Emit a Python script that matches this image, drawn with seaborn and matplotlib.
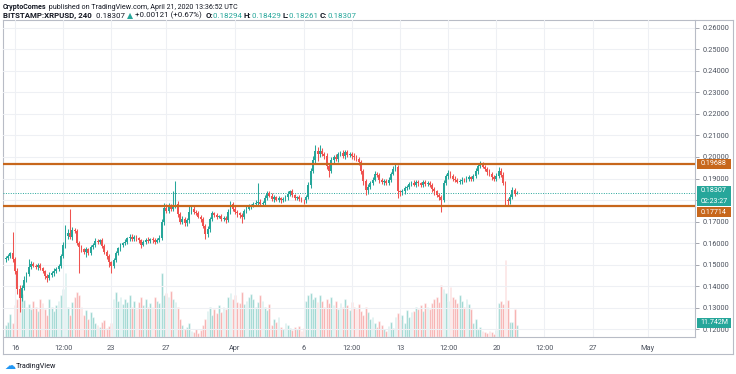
import numpy as np
import pandas as pd
import matplotlib
matplotlib.use("Agg")
import matplotlib.pyplot as plt
from matplotlib.patches import Rectangle
import seaborn as sns

sns.set_theme(style="white")
plt.rcParams["font.family"] = ["Roboto", "DejaVu Sans"]

# ==============================
# DATA  (XRPUSD 4h candles, Mar 15 08:00 -> Apr 21 12:00, prices in 1e-4 USD)
# ==============================
first_open = 1525
close = [
    1530, 1538, 1552, 1524, 1470, 1385, 1345, 1392, 1430, 1455, 1490, 1502,
    1495, 1488, 1496, 1482, 1470, 1448, 1438, 1452, 1460, 1472, 1480, 1492,
    1540, 1590, 1632, 1645, 1628, 1660, 1655, 1600, 1582, 1572, 1560, 1570,
    1555, 1580, 1592, 1610, 1604, 1612, 1588, 1560, 1540, 1510, 1495, 1520,
    1552, 1575, 1590, 1598, 1605, 1622, 1630, 1618, 1628, 1622, 1612, 1592,
    1605, 1615, 1610, 1618, 1612, 1606, 1615, 1625, 1700, 1765, 1750, 1772,
    1760, 1770, 1780, 1735, 1700, 1712, 1692, 1705, 1742, 1760, 1745, 1738,
    1722, 1712, 1680, 1640, 1665, 1712, 1738, 1730, 1722, 1725, 1712, 1715,
    1705, 1745, 1782, 1760, 1745, 1738, 1730, 1722, 1748, 1760, 1770, 1775,
    1782, 1788, 1790, 1782, 1786, 1810, 1832, 1820, 1805, 1812, 1802, 1808,
    1798, 1805, 1812, 1830, 1840, 1822, 1810, 1812, 1805, 1800, 1798, 1812,
    1870, 1935, 1985, 2030, 2012, 2028, 2015, 2005, 1960, 1935, 1985, 2000,
    1990, 2012, 2018, 2005, 2022, 2010, 2015, 2005, 1998, 1990, 1975, 1935,
    1890, 1845, 1862, 1880, 1895, 1920, 1915, 1892, 1882, 1890, 1880, 1895,
    1922, 1945, 1952, 1840, 1835, 1842, 1855, 1860, 1875, 1880, 1872, 1885,
    1878, 1870, 1882, 1875, 1880, 1870, 1850, 1840, 1825, 1812, 1800, 1880,
    1910, 1925, 1912, 1900, 1895, 1885, 1888, 1895, 1892, 1900, 1905, 1898,
    1912, 1935, 1958, 1965, 1955, 1945, 1930, 1920, 1905, 1900, 1910, 1935,
    1918, 1880, 1800, 1795, 1815, 1845, 1829.4, 1830.7,
]
upper_wick = [
    10, 12, 8, 100, 10, 15, 20, 12, 15, 10, 35, 12,
    10, 8, 12, 10, 8, 6, 10, 12, 8, 10, 8, 12,
    10, 15, 50, 20, 115, 15, 10, 12, 8, 10, 6, 10,
    8, 12, 10, 15, 10, 8, 10, 6, 8, 10, 8, 10,
    12, 8, 10, 6, 12, 8, 10, 12, 8, 10, 6, 8,
    10, 8, 12, 6, 8, 10, 8, 10, 12, 20, 15, 12,
    10, 70, 110, 15, 10, 12, 8, 10, 30, 12, 10, 8,
    10, 6, 8, 10, 12, 10, 12, 8, 10, 6, 8, 10,
    12, 15, 12, 8, 10, 8, 6, 10, 8, 10, 12, 8,
    10, 12, 90, 15, 10, 12, 10, 8, 12, 10, 8, 10,
    8, 10, 12, 10, 8, 10, 6, 8, 10, 8, 6, 10,
    15, 12, 20, 26, 15, 28, 12, 10, 12, 10, 15, 10,
    12, 10, 8, 15, 12, 10, 8, 10, 12, 10, 8, 10,
    10, 8, 12, 10, 10, 15, 8, 10, 12, 8, 10, 12,
    10, 12, 15, 10, 8, 10, 8, 12, 10, 8, 12, 8,
    10, 8, 12, 10, 8, 10, 8, 10, 6, 8, 10, 15,
    12, 15, 10, 8, 10, 8, 12, 10, 8, 10, 12, 8,
    10, 12, 10, 15, 10, 8, 10, 12, 8, 10, 15, 20,
    12, 10, 8, 10, 12, 15, 10, 12.2,
]
lower_wick = [
    12, 10, 8, 12, 15, 20, 65, 15, 10, 12, 8, 10,
    8, 10, 12, 8, 10, 15, 20, 10, 8, 12, 10, 8,
    8, 10, 12, 15, 10, 12, 8, 10, 120, 15, 10, 25,
    12, 10, 8, 12, 10, 8, 10, 12, 15, 20, 35, 12,
    10, 8, 12, 10, 8, 10, 12, 10, 8, 12, 10, 15,
    8, 10, 12, 8, 10, 12, 8, 10, 10, 15, 12, 10,
    12, 10, 8, 15, 12, 10, 15, 12, 10, 8, 12, 10,
    8, 12, 10, 20, 10, 12, 8, 10, 12, 8, 10, 8,
    10, 8, 12, 10, 8, 15, 12, 30, 12, 10, 8, 10,
    8, 10, 12, 10, 8, 10, 12, 8, 10, 12, 8, 10,
    12, 8, 10, 12, 10, 8, 10, 12, 8, 10, 15, 10,
    8, 12, 10, 15, 30, 12, 10, 12, 15, 28, 10, 12,
    10, 12, 8, 10, 12, 10, 8, 12, 10, 8, 12, 15,
    20, 22, 15, 10, 12, 8, 10, 12, 8, 10, 12, 8,
    10, 8, 12, 30, 15, 10, 12, 8, 10, 12, 8, 10,
    12, 8, 10, 12, 8, 10, 12, 15, 10, 12, 56, 10,
    12, 10, 8, 12, 10, 8, 10, 12, 8, 10, 12, 10,
    8, 10, 12, 10, 8, 10, 12, 8, 10, 12, 10, 8,
    10, 12, 25, 20, 12, 10, 12, 3.3,
]
volume_m = [
    12, 15, 23, 14, 32, 38, 40, 43, 37, 30, 33, 28,
    36, 30, 26, 38, 34, 28, 22, 38, 30, 26, 32, 36,
    42, 48, 64, 30, 22, 35, 40, 45, 42, 30, 22, 27,
    18, 25, 20, 14, 12, 10, 15, 17, 9, 11, 14, 38,
    45, 36, 40, 33, 38, 35, 42, 30, 36, 28, 35, 40,
    32, 38, 30, 34, 30, 40, 36, 34, 64, 42, 44, 40,
    46, 38, 35, 30, 18, 12, 8, 10, 14, 6, 5, 8,
    4, 7, 12, 18, 26, 30, 22, 28, 24, 32, 25, 30,
    28, 40, 44, 38, 42, 35, 34, 45, 33, 36, 40, 43,
    38, 30, 35, 42, 36, 30, 27, 33, 12, 18, 15, 20,
    10, 8, 14, 12, 9, 7, 10, 8, 11, 6, 9, 36,
    42, 44, 38, 40, 35, 42, 36, 30, 38, 34, 40, 32,
    36, 28, 34, 30, 38, 32, 27, 35, 30, 28, 33, 26,
    22, 30, 25, 18, 20, 14, 10, 16, 12, 8, 6, 11,
    15, 9, 20, 24, 18, 22, 14, 27, 20, 25, 26, 30,
    28, 32, 26, 34, 30, 28, 34, 38, 40, 35, 52, 48,
    44, 36, 50, 40, 38, 34, 42, 36, 30, 38, 33, 28,
    14, 18, 8, 10, 6, 5, 4, 6, 5, 3, 7, 34,
    36, 33, 77, 37, 15, 15, 28, 11.742,
]

tick_pos = [4, 25, 46, 70, 100, 130, 151, 172, 193, 214, 235, 256, 280]
tick_labels = ["16", "12:00", "23", "27", "Apr", "6", "12:00", "13", "12:00",
               "20", "12:00", "27", "May"]
price_ticks = [0.12, 0.13, 0.14, 0.15, 0.16, 0.17, 0.18, 0.19, 0.20,
               0.21, 0.22, 0.23, 0.24, 0.25, 0.26]
resistance = 0.19688
support = 0.17714
last_price = 0.18307

GREEN = "#26a69a"
RED = "#ef5350"
ORANGE = "#c7671c"
TEXT = "#4c525e"
DARK = "#131722"

# ==============================
# BUILD OHLC
# ==============================
c = np.array(close) / 10000
o = np.concatenate([[first_open / 10000], c[:-1]])
hi = np.maximum(o, c) + np.array(upper_wick) / 10000
lo = np.minimum(o, c) - np.array(lower_wick) / 10000
idx = np.arange(len(c))
up = c >= o
colors = np.where(up, GREEN, RED)

df = pd.DataFrame({"i": idx, "vol": volume_m, "dir": np.where(up, "up", "down")})

# ==============================
# FIGURE
# ==============================
W, H = 736, 374
fig = plt.figure(figsize=(W / 100, H / 100), dpi=100)


def px_axes(x0, y0, x1, y1):
    return fig.add_axes([x0 / W, 1 - y1 / H, (x1 - x0) / W, (y1 - y0) / H])


frame = px_axes(3, 20, 733, 354)
frame.set_xticks([])
frame.set_yticks([])
for s in frame.spines.values():
    s.set_color("#b8bcc6")
    s.set_linewidth(0.8)

xlim = (-1.235, 300.7)
ylim = (0.11628, 0.26372)

# volume (behind)
ax_v = px_axes(3, 20, 695, 337)
sns.barplot(data=df, x="i", y="vol", hue="dir", palette={"up": GREEN, "down": RED},
            native_scale=True, dodge=False, width=0.8, alpha=0.55, saturation=1,
            errorbar=None, legend=False, ax=ax_v)
ax_v.set_xlim(*xlim)
ax_v.set_ylim(0, 317)
ax_v.axis("off")

# price
ax = px_axes(3, 20, 695, 337)
ax.patch.set_alpha(0)
ax.set_xlim(*xlim)
ax.set_ylim(*ylim)
ax.set_yticks(price_ticks)
ax.set_xticks(tick_pos)
ax.grid(True, color="#eef0f4", lw=0.8)
ax.set_axisbelow(True)

ax.vlines(idx, lo, hi, colors=colors, lw=0.75, zorder=3)
body_lo = np.minimum(o, c)
body_h = np.maximum(np.abs(c - o), 0.00012)
ax.bar(idx, body_h, bottom=body_lo, width=0.8, color=colors, lw=0, zorder=4)

ax.axhline(resistance, color=ORANGE, lw=1.6, zorder=5)
ax.axhline(support, color=ORANGE, lw=1.6, zorder=5)
ax.axhline(last_price, color=GREEN, lw=0.7, ls=(0, (1, 1.5)), zorder=2)

ax.yaxis.tick_right()
# the 0.18 label is fully hidden behind the price/countdown boxes
ax.set_yticklabels(["" if abs(v - 0.18) < 1e-9 else f"{v:.5f}" for v in price_ticks])
ax.set_xticklabels(tick_labels)
ax.tick_params(axis="y", length=3, width=0.6, color="#9598a1", pad=2.5,
               labelsize=5.3, labelcolor=TEXT, right=True)
ax.tick_params(axis="x", length=0, pad=6, labelsize=5.3, labelcolor=TEXT)
for s in ax.spines.values():
    s.set_visible(False)
for side in ("right", "bottom"):
    ax.spines[side].set_visible(True)
    ax.spines[side].set_color("#b8bcc6")
    ax.spines[side].set_linewidth(0.8)
ax.set_xlabel("")
ax.set_ylabel("")


# right-axis value boxes (fixed width, like TradingView)
def ybox(yc, label, color):
    fig.add_artist(Rectangle((697 / W, 1 - (yc + 5) / H), 34 / W, 10 / H,
                             transform=fig.transFigure, fc=color, ec="none", zorder=9))
    fig.text(714 / W, 1 - yc / H, label, fontsize=5.1, color="white",
             va="center", ha="center", zorder=10)


def ypix(v):
    return 20 + (ylim[1] - v) / (ylim[1] - ylim[0]) * 317


ybox(ypix(resistance), "0.19688", ORANGE)
ybox(190.5, "0.18307", GREEN)
ybox(201, "02:23:27", GREEN)
ybox(212, "0.17714", ORANGE)
ybox(323, "11.742M", GREEN)

# ==============================
# HEADER
# ==============================
first = fig.text(3 / W, 1 - 9 / H, "CryptoComes", fontsize=5.1, weight="bold", color=DARK)
ax.annotate(" published on TradingView.com, April 21, 2020 13:36:52 UTC",
            xy=(1, 0), xycoords=first, va="bottom", fontsize=5.1, color=DARK,
            annotation_clip=False)

FS = 5.7
parts = [
    ("BITSTAMP:XRPUSD, 240", DARK, "bold"),
    ("  0.18307 ", DARK, "normal"),
    ("\u25B2", GREEN, "normal"),
    (" +0.00121 (+0.67%)  ", DARK, "normal"),
    ("O:", DARK, "bold"), ("0.18294 ", GREEN, "normal"),
    ("H:", DARK, "bold"), ("0.18429 ", GREEN, "normal"),
    ("L:", DARK, "bold"), ("0.18261 ", GREEN, "normal"),
    ("C:", DARK, "bold"), ("0.18307", GREEN, "normal"),
]
prev = fig.text(3 / W, 1 - 18 / H, parts[0][0], fontsize=FS, color=parts[0][1],
                weight=parts[0][2])
for txt, col, wt in parts[1:]:
    prev = ax.annotate(txt, xy=(1, 0), xycoords=prev, va="bottom", fontsize=FS,
                       color=col, weight=wt, annotation_clip=False)

# footer logo
fig.text(4 / W, 1 - 366 / H, "\u2601", fontsize=8, color="#2196f3", va="center",
         family=["DejaVu Sans"])
fig.text(16 / W, 1 - 366 / H, "TradingView", fontsize=5.2, color=DARK, va="center")

fig.savefig("out.png", dpi=100)
